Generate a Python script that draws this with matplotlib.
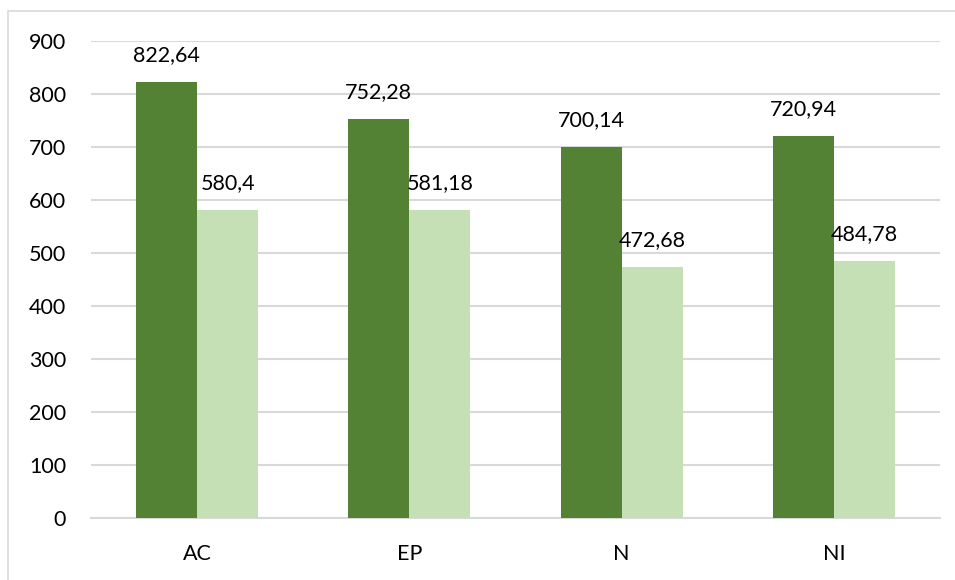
import matplotlib
matplotlib.use("Agg")
import matplotlib.pyplot as plt
from matplotlib.patches import Rectangle
import numpy as np

categories = ["AC", "EP", "N", "NI"]
series1 = [822.64, 752.28, 700.14, 720.94]
series2 = [580.4, 581.18, 472.68, 484.78]
yticks = [0, 100, 200, 300, 400, 500, 600, 700, 800, 900]

plt.rcParams['font.family'] = ['Lato', 'DejaVu Sans']

W, H = 955, 580
fig = plt.figure(figsize=(W/100, H/100), dpi=100)
fig.patches.append(Rectangle((8/W, -0.1), 1.2, 1 - 11/H + 0.1, transform=fig.transFigure,
                             fill=False, edgecolor='#D9D9D9', linewidth=1.2, zorder=0))

ax = fig.add_axes([91/W, 1 - 518/H, (940-91)/W, (518-41)/H])
x = np.arange(len(categories))
bw = 0.2875
b1 = ax.bar(x - bw/2, series1, bw, color='#548235', zorder=3)
b2 = ax.bar(x + bw/2, series2, bw, color='#C5E0B4', zorder=3)

def fmt(v):
    s = f"{v:.2f}".rstrip('0').rstrip('.')
    return s.replace('.', ',')

fs = 15.5
for bars, vals in ((b1, series1), (b2, series2)):
    for r, v in zip(bars, vals):
        ax.annotate(fmt(v), (r.get_x() + r.get_width()/2, v), xytext=(0, 19.5),
                    textcoords='offset points', ha='center', va='center', fontsize=fs,
                    color='#000000')

ax.set_xlim(-0.5, len(categories) - 0.5)
ax.set_ylim(0, 900)
ax.set_yticks(yticks)
ax.set_yticklabels([str(t) for t in yticks])
ax.set_xticks(x)
ax.set_xticklabels(categories)
ax.tick_params(axis='both', length=0, labelsize=fs, colors='#000000')
ax.tick_params(axis='y', pad=18)
ax.tick_params(axis='x', pad=19)
ax.grid(axis='y', color='#D9D9D9', linewidth=1.5, zorder=0)
for s in ['top', 'right', 'left']:
    ax.spines[s].set_visible(False)
ax.spines['bottom'].set_color('#D9D9D9')
ax.spines['bottom'].set_linewidth(1.5)

fig.savefig('out.png', dpi=100)
